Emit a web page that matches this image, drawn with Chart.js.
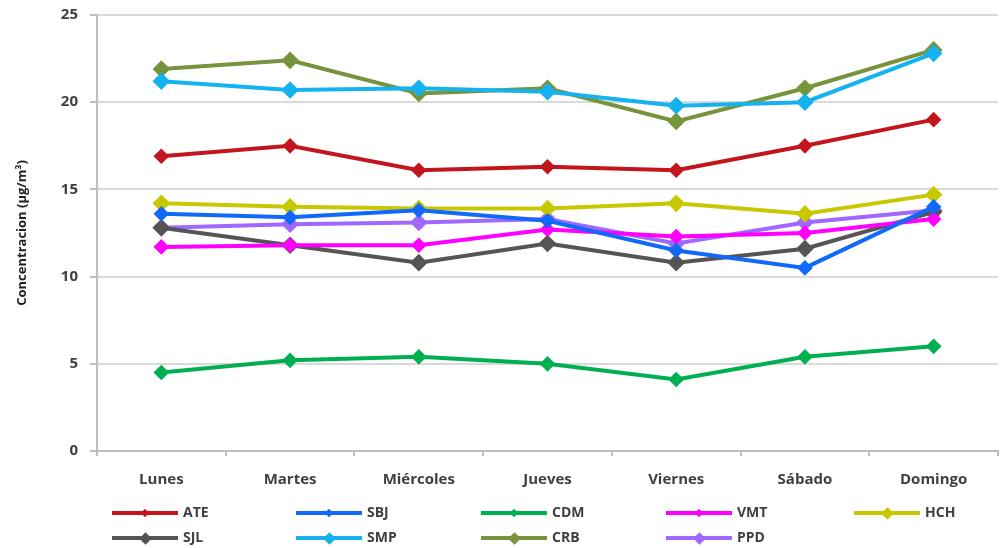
<!DOCTYPE html>
<html>
<head>
<meta charset="utf-8">
<script src="https://cdn.jsdelivr.net/npm/chart.js@4.4.1/dist/chart.umd.min.js"></script>
<style>
  body { margin: 0; background: #fff; overflow: hidden; }
  #wrap { position: relative; width: 1001px; height: 548px; overflow: hidden; }
  #chartBox { position: absolute; left: 0; top: 0; }
  #legend { position: absolute; left: 0; top: 0; width: 1001px; height: 548px; }
  .item { position: absolute; height: 20px; font: bold 14px 'Open Sans', sans-serif; color: #404040; }
  .swatch { position: absolute; left: 0; top: 8px; width: 66px; height: 4px; }
  .mark { position: absolute; transform: rotate(45deg); }
  .txt { position: absolute; left: 71px; top: -1px; line-height: 20px; }
</style>
</head>
<body>
<div id="wrap">
  <div id="chartBox"><canvas id="myChart" width="1008" height="497"></canvas></div>
  <div id="legend"></div>
</div>
<script>
  // days of the week
  var days = ['Lunes', 'Martes', 'Miércoles', 'Jueves', 'Viernes', 'Sábado', 'Domingo'];

  // concentration per station (µg/m³)
  var ATE = [16.9, 17.5, 16.1, 16.3, 16.1, 17.5, 19.0];
  var SBJ = [13.6, 13.4, 13.8, 13.2, 11.5, 10.5, 14.0];
  var CDM = [4.5, 5.2, 5.4, 5.0, 4.1, 5.4, 6.0];
  var VMT = [11.7, 11.8, 11.8, 12.7, 12.3, 12.5, 13.3];
  var HCH = [14.2, 14.0, 13.9, 13.9, 14.2, 13.6, 14.7];
  var SJL = [12.8, 11.8, 10.8, 11.9, 10.8, 11.6, 13.7];
  var SMP = [21.2, 20.7, 20.8, 20.6, 19.8, 20.0, 22.8];
  var CRB = [21.9, 22.4, 20.5, 20.8, 18.9, 20.8, 23.0];
  var PPD = [12.8, 13.0, 13.1, 13.3, 11.9, 13.1, 13.8];

  var yTicks = [0, 5, 10, 15, 20, 25];

  function line(name, data, color, r) {
    return {
      label: name,
      data: data,
      borderColor: color,
      backgroundColor: color,
      borderWidth: 4,
      pointStyle: 'rectRot',
      pointRadius: r,
      pointHoverRadius: r,
      tension: 0
    };
  }

  var ctx = document.getElementById('myChart').getContext('2d');
  var font = "'Open Sans', sans-serif";

  var myChart = new Chart(ctx, {
    type: 'line',
    data: {
      labels: days,
      datasets: [
        line('ATE', ATE, '#c3161c', 5),
        line('SBJ', SBJ, '#1169fa', 5),
        line('CDM', CDM, '#00b050', 5),
        line('VMT', VMT, '#ff00ff', 5),
        line('HCH', HCH, '#c8c802', 6),
        line('SJL', SJL, '#555555', 6),
        line('SMP', SMP, '#15b2f0', 6),
        line('CRB', CRB, '#77933c', 6),
        line('PPD', PPD, '#a068ff', 6)
      ]
    },
    options: {
      responsive: false,
      animation: false,
      devicePixelRatio: 1,
      layout: { padding: { left: 6, top: 15, right: 2, bottom: 0 } },
      plugins: {
        legend: { display: false },
        tooltip: { enabled: false }
      },
      scales: {
        x: {
          offset: true,
          grid: {
            offset: true,
            drawOnChartArea: false,
            drawTicks: true,
            tickLength: 5,
            color: '#bfbfbf',
            lineWidth: 2
          },
          border: { color: '#bfbfbf', width: 2 },
          ticks: {
            padding: 15,
            color: '#404040',
            font: { family: font, size: 15, weight: 'bold' },
            maxRotation: 0
          },
          afterFit: function (s) { s.height = 46; }
        },
        y: {
          min: 0,
          max: 25,
          afterBuildTicks: function (s) { s.ticks = yTicks.map(function (v) { return { value: v }; }); },
          grid: {
            color: '#d9d9d9',
            lineWidth: 2,
            tickLength: 7,
            tickColor: '#bfbfbf'
          },
          border: { color: '#bfbfbf', width: 2 },
          ticks: {
            padding: 12,
            color: '#404040',
            font: { family: font, size: 15, weight: 'bold' }
          },
          title: {
            display: true,
            text: 'Concentracion (µg/m³)',
            color: '#202020',
            padding: { top: 8, bottom: 4 },
            font: { family: font, size: 13, weight: 'bold' }
          },
          afterFit: function (s) {
            s.width = 91;
            s.paddingTop = 0;
            s.paddingBottom = 0;
          }
        }
      }
    }
  });

  // legend in a fixed grid, built from the datasets
  var colX = [112, 296, 481, 666, 854];
  var rowY = [503, 528];
  var leg = document.getElementById('legend');
  myChart.data.datasets.forEach(function (ds, i) {
    var it = document.createElement('div');
    it.className = 'item';
    it.style.left = colX[i % 5] + 'px';
    it.style.top = rowY[Math.floor(i / 5)] + 'px';
    var sw = document.createElement('div');
    sw.className = 'swatch';
    sw.style.background = ds.borderColor;
    var mk = document.createElement('div');
    var sz = ds.pointRadius > 5 ? 9 : 6;
    mk.className = 'mark';
    mk.style.width = sz + 'px';
    mk.style.height = sz + 'px';
    mk.style.left = (33 - sz / 2) + 'px';
    mk.style.top = (10 - sz / 2) + 'px';
    mk.style.background = ds.borderColor;
    var tx = document.createElement('span');
    tx.className = 'txt';
    tx.textContent = ds.label;
    it.appendChild(sw);
    it.appendChild(mk);
    it.appendChild(tx);
    leg.appendChild(it);
  });
</script>
</body>
</html>
